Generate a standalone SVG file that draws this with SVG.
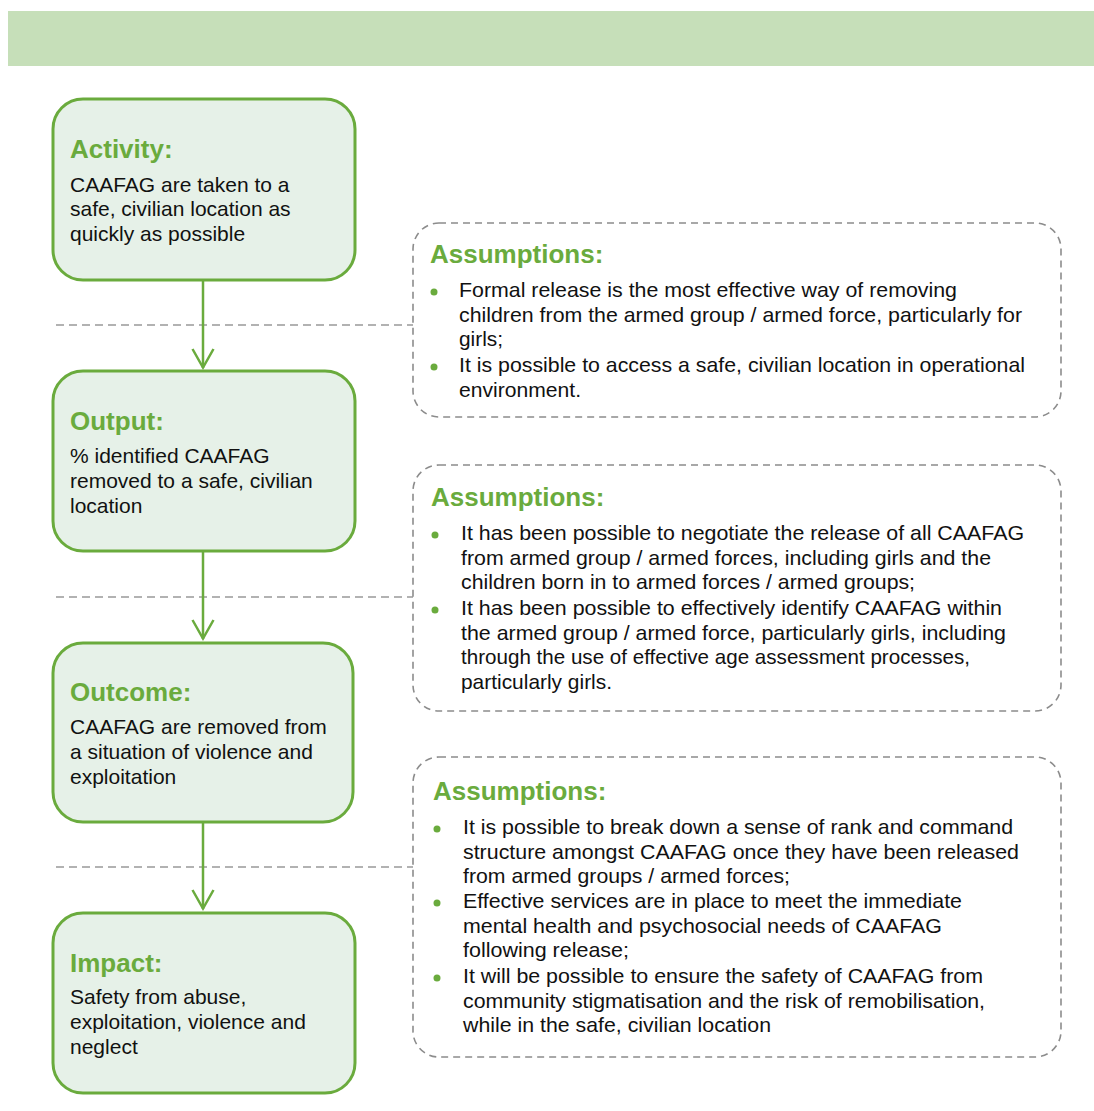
<svg xmlns="http://www.w3.org/2000/svg" width="1094" height="1111" viewBox="0 0 1094 1111">
<style>
.node{fill:#e6f1e8;stroke:#6aab3d;stroke-width:3}
.ttl{font-family:"Liberation Sans",Arial,sans-serif;font-weight:bold;font-size:26px;fill:#6aab3d}
.body{font-family:"Liberation Sans",Arial,sans-serif;font-size:21px;fill:#111}
.asm{fill:#fff;stroke:#8c8c8c;stroke-width:1.6;stroke-dasharray:7 5}
.atxt{font-family:"Liberation Sans",Arial,sans-serif;font-size:21px;fill:#111}
.bul{fill:#6aab3d}
.conn{stroke:#6aab3d;stroke-width:2.5;fill:none}
.sep{stroke:#999;stroke-width:1.6;stroke-dasharray:8 5;fill:none}
</style>
<defs>
<marker id="ah" viewBox="0 0 22 24" refX="20" refY="12" markerWidth="22" markerHeight="24" markerUnits="userSpaceOnUse" orient="auto">
<path d="M1 1.5 L19.5 12 L1 22.5" fill="none" stroke="#6aab3d" stroke-width="2.5"/>
</marker>
</defs>
<rect x="8" y="11" width="1086" height="55" fill="#c6dfb9"/>

<g id="separators">
<path class="sep" d="M56 325H413M56 597H413M56 867H413"/>
</g>

<g id="connectors">
<path class="conn" d="M203 280V368" marker-end="url(#ah)"/>
<path class="conn" d="M203 551V639" marker-end="url(#ah)"/>
<path class="conn" d="M203 822V909" marker-end="url(#ah)"/>
</g>

<g id="activity">
<rect class="node" x="53" y="99" width="302" height="181" rx="30"/>
<text class="ttl" x="70" y="158">Activity:</text>
<text class="body" x="70" y="192">CAAFAG are taken to a</text>
<text class="body" x="70" y="216">safe, civilian location as</text>
<text class="body" x="70" y="241">quickly as possible</text>
</g>

<g id="output">
<rect class="node" x="53" y="371" width="302" height="180" rx="30"/>
<text class="ttl" x="70" y="430">Output:</text>
<text class="body" x="70" y="463">% identified CAAFAG</text>
<text class="body" x="70" y="488">removed to a safe, civilian</text>
<text class="body" x="70" y="513">location</text>
</g>

<g id="outcome">
<rect class="node" x="53" y="643" width="300" height="179" rx="30"/>
<text class="ttl" x="70" y="701">Outcome:</text>
<text class="body" x="70" y="734">CAAFAG are removed from</text>
<text class="body" x="70" y="759">a situation of violence and</text>
<text class="body" x="70" y="784">exploitation</text>
</g>

<g id="impact">
<rect class="node" x="53" y="913" width="302" height="180" rx="30"/>
<text class="ttl" x="70" y="972">Impact:</text>
<text class="body" x="70" y="1004">Safety from abuse,</text>
<text class="body" x="70" y="1029">exploitation, violence and</text>
<text class="body" x="70" y="1054">neglect</text>
</g>

<g id="assumptions1">
<rect class="asm" x="413" y="223" width="648" height="194" rx="26"/>
<text class="ttl" x="430" y="263">Assumptions:</text>
<circle class="bul" cx="434" cy="292" r="3.5"/>
<circle class="bul" cx="434" cy="367" r="3.5"/>
<text class="atxt" x="459" y="297" textLength="498" lengthAdjust="spacingAndGlyphs">Formal release is the most effective way of removing</text>
<text class="atxt" x="459" y="322" textLength="563" lengthAdjust="spacingAndGlyphs">children from the armed group / armed force, particularly for</text>
<text class="atxt" x="459" y="346" textLength="44" lengthAdjust="spacingAndGlyphs">girls;</text>
<text class="atxt" x="459" y="372" textLength="566" lengthAdjust="spacingAndGlyphs">It is possible to access a safe, civilian location in operational</text>
<text class="atxt" x="459" y="397" textLength="122" lengthAdjust="spacingAndGlyphs">environment.</text>
</g>

<g id="assumptions2">
<rect class="asm" x="413" y="465" width="648" height="246" rx="26"/>
<text class="ttl" x="431" y="506">Assumptions:</text>
<circle class="bul" cx="435" cy="535" r="3.5"/>
<circle class="bul" cx="435" cy="610" r="3.5"/>
<text class="atxt" x="461" y="540" textLength="563" lengthAdjust="spacingAndGlyphs">It has been possible to negotiate the release of all CAAFAG</text>
<text class="atxt" x="461" y="565" textLength="530" lengthAdjust="spacingAndGlyphs">from armed group / armed forces, including girls and the</text>
<text class="atxt" x="461" y="589" textLength="454" lengthAdjust="spacingAndGlyphs">children born in to armed forces / armed groups;</text>
<text class="atxt" x="461" y="615" textLength="541" lengthAdjust="spacingAndGlyphs">It has been possible to effectively identify CAAFAG within</text>
<text class="atxt" x="461" y="640" textLength="545" lengthAdjust="spacingAndGlyphs">the armed group / armed force, particularly girls, including</text>
<text class="atxt" x="461" y="664" textLength="509" lengthAdjust="spacingAndGlyphs">through the use of effective age assessment processes,</text>
<text class="atxt" x="461" y="689" textLength="151" lengthAdjust="spacingAndGlyphs">particularly girls.</text>
</g>

<g id="assumptions3">
<rect class="asm" x="413" y="757" width="648" height="300" rx="26"/>
<text class="ttl" x="433" y="800">Assumptions:</text>
<circle class="bul" cx="437" cy="829" r="3.5"/>
<circle class="bul" cx="437" cy="903" r="3.5"/>
<circle class="bul" cx="437" cy="978" r="3.5"/>
<text class="atxt" x="463" y="834" textLength="550" lengthAdjust="spacingAndGlyphs">It is possible to break down a sense of rank and command</text>
<text class="atxt" x="463" y="859" textLength="556" lengthAdjust="spacingAndGlyphs">structure amongst CAAFAG once they have been released</text>
<text class="atxt" x="463" y="883" textLength="327" lengthAdjust="spacingAndGlyphs">from armed groups / armed forces;</text>
<text class="atxt" x="463" y="908" textLength="499" lengthAdjust="spacingAndGlyphs">Effective services are in place to meet the immediate</text>
<text class="atxt" x="463" y="933" textLength="479" lengthAdjust="spacingAndGlyphs">mental health and psychosocial needs of CAAFAG</text>
<text class="atxt" x="463" y="957" textLength="166" lengthAdjust="spacingAndGlyphs">following release;</text>
<text class="atxt" x="463" y="983" textLength="520" lengthAdjust="spacingAndGlyphs">It will be possible to ensure the safety of CAAFAG from</text>
<text class="atxt" x="463" y="1008" textLength="522" lengthAdjust="spacingAndGlyphs">community stigmatisation and the risk of remobilisation,</text>
<text class="atxt" x="463" y="1032" textLength="308" lengthAdjust="spacingAndGlyphs">while in the safe, civilian location</text>
</g>
</svg>
